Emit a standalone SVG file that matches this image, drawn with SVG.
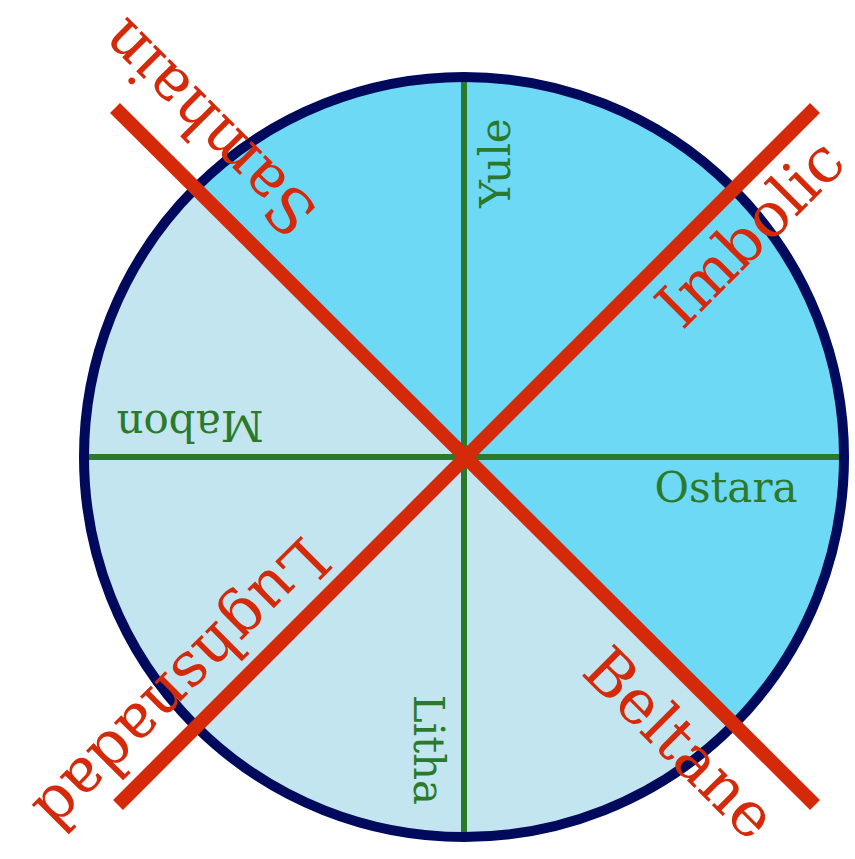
<svg xmlns="http://www.w3.org/2000/svg" width="855" height="859" viewBox="0 0 855 859">
<style>
.g{stroke:#2b7a2b;stroke-width:6}
.r{stroke:#d42a0a;stroke-width:14}
.gt{fill:#2b7a2b;font-family:"DejaVu Serif",serif;font-size:42px;text-anchor:middle;dominant-baseline:central}
.rt{fill:#d42a0a;font-family:"DejaVu Serif",serif;font-size:62px;text-anchor:middle;dominant-baseline:central}
</style>
<g id="wheel">
<circle cx="464" cy="457" r="380" fill="#c2e5ef"/>
<path d="M195.3,188.3 A380,380 0 0 1 732.7,725.7 Z" fill="#6dd9f5"/>
</g>
<g id="connectors">
<line class="g" x1="464" y1="82" x2="464" y2="832"/>
<line class="g" x1="89" y1="457" x2="839" y2="457"/>
<circle cx="464" cy="457" r="380" fill="none" stroke="#000a5c" stroke-width="10"/>
<line class="r" x1="115" y1="108" x2="815" y2="805"/>
<line class="r" x1="815" y1="108" x2="118" y2="805"/>
</g>
<g id="yule"><text class="gt" transform="translate(495,163) rotate(-90)">Yule</text></g>
<g id="ostara"><text class="gt" transform="translate(726,487)">Ostara</text></g>
<g id="litha"><text class="gt" transform="translate(428,750) rotate(90)">Litha</text></g>
<g id="mabon"><text class="gt" transform="translate(190,425) rotate(180)">Mabon</text></g>
<g id="samhain"><text class="rt" transform="translate(208,128) rotate(225)">Samhain</text></g>
<g id="imbolic"><text class="rt" transform="translate(750,233) rotate(-45)">Imbolic</text></g>
<g id="beltane"><text class="rt" transform="translate(680,743) rotate(45)">Beltane</text></g>
<g id="lughsnadad"><text class="rt" transform="translate(182,685) rotate(135)">Lughsnadad</text></g>
</svg>
